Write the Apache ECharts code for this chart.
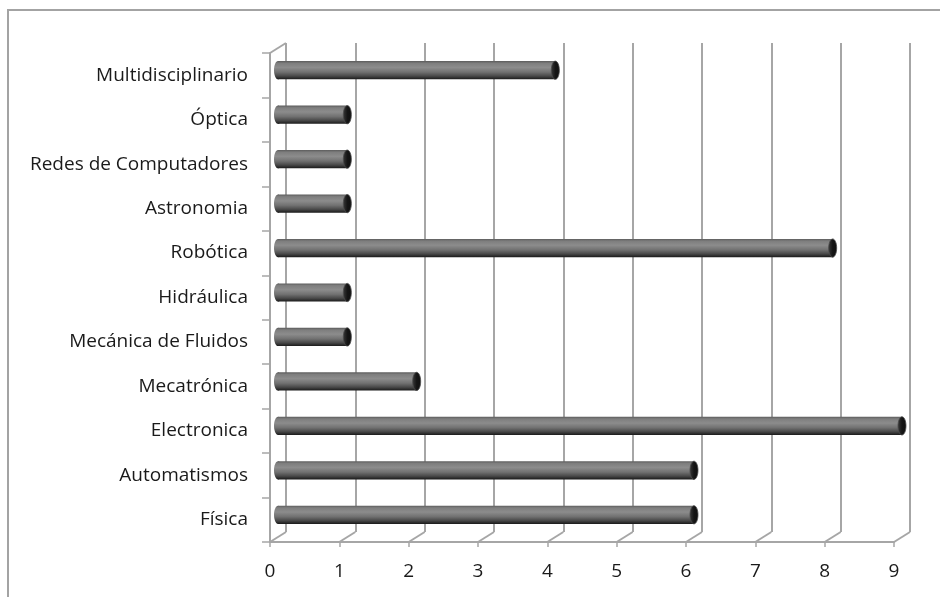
<!DOCTYPE html>
<html>
<head>
<meta charset="utf-8">
<script src="https://cdn.jsdelivr.net/npm/echarts@6/dist/echarts.min.js"></script>
<style>
  html, body { margin: 0; padding: 0; background: #fff; }
  #chart { width: 940px; height: 597px; }
</style>
</head>
<body>
<div id="chart"></div>
<script>
// Projects per area (bottom to top on the category axis)
const categories = [
  'Física', 'Automatismos', 'Electronica', 'Mecatrónica', 'Mecánica de Fluidos',
  'Hidráulica', 'Robótica', 'Astronomia', 'Redes de Computadores', 'Óptica', 'Multidisciplinario'
];
const counts = [6, 6, 9, 2, 1, 1, 8, 1, 1, 1, 4];
const xTicks = [0, 1, 2, 3, 4, 5, 6, 7, 8, 9];

const FONT = 'Open Sans';
const GRID_COLOR = '#a6a6a6';
const DEPTH_X = 16, DEPTH_Y = -10;   // perspective shift of the back wall

const chart = echarts.init(document.getElementById('chart'), null, { renderer: 'canvas' });

// front plane, back wall and the middle plane where the cylinders sit
const front = { left: 270, top: 53, width: 624, height: 489 };
const back = { left: front.left + DEPTH_X, top: front.top + DEPTH_Y, width: 624, height: 489 };
const mid = { left: front.left + DEPTH_X / 2, top: front.top + DEPTH_Y / 2, width: 624, height: 489 };

const bodyGradient = new echarts.graphic.LinearGradient(0, 0, 0, 1, [
  { offset: 0, color: '#5c5c5c' },
  { offset: 0.12, color: '#7e7e7e' },
  { offset: 0.35, color: '#8c8c8c' },
  { offset: 0.6, color: '#717171' },
  { offset: 0.82, color: '#484848' },
  { offset: 1, color: '#1a1a1a' }
]);
const capGradient = new echarts.graphic.LinearGradient(0, 0, 1, 0, [
  { offset: 0, color: '#3a3a3a' },
  { offset: 0.5, color: '#151515' },
  { offset: 1, color: '#101010' }
]);

function renderCylinder(params, api) {
  const v = api.value(0);
  const cat = api.value(1);
  const start = api.coord([0, cat]);
  const end = api.coord([v, cat]);
  const band = api.size([0, 1])[1];
  const h = band * 0.41;
  const ry = h / 2;
  const rx = 4;
  const cy = start[1];
  return {
    type: 'group',
    children: [
      { type: 'ellipse', shape: { cx: start[0], cy: cy, rx: rx, ry: ry },
        style: { fill: bodyGradient } },
      { type: 'rect', shape: { x: start[0], y: cy - ry, width: end[0] - start[0], height: h },
        style: { fill: bodyGradient } },
      { type: 'ellipse', shape: { cx: end[0], cy: cy, rx: rx, ry: ry },
        style: { fill: capGradient, stroke: '#4a4a4a', lineWidth: 0.8 } }
    ]
  };
}

// slanted floor edges joining the front axis to the back wall
function renderFloor(params, api) {
  const cs = params.coordSys;
  const p = api.coord([api.value(0), 0]);
  const bottom = cs.y + cs.height;
  const children = [{
    type: 'line',
    shape: { x1: p[0], y1: bottom, x2: p[0] + DEPTH_X, y2: bottom + DEPTH_Y },
    style: { stroke: GRID_COLOR, lineWidth: 2 }
  }];
  if (params.dataIndex === 0) {
    children.push({
      type: 'line',
      shape: { x1: p[0], y1: cs.y, x2: p[0] + DEPTH_X, y2: cs.y + DEPTH_Y },
      style: { stroke: GRID_COLOR, lineWidth: 2 }
    });
  }
  return { type: 'group', children: children };
}

const hiddenValueAxis = (gi) => ({
  gridIndex: gi, type: 'value', min: 0, max: 9, interval: 1,
  axisLine: { show: false }, axisTick: { show: false }, axisLabel: { show: false },
  splitLine: { show: false }
});
const hiddenCatAxis = (gi) => ({
  gridIndex: gi, type: 'category', data: categories,
  axisLine: { show: false }, axisTick: { show: false }, axisLabel: { show: false },
  splitLine: { show: false }
});

const option = {
  backgroundColor: '#ffffff',
  animation: false,
  grid: [
    Object.assign({ containLabel: false }, front),
    Object.assign({ containLabel: false }, back),
    Object.assign({ containLabel: false }, mid)
  ],
  xAxis: [
    {
      gridIndex: 0, type: 'value', min: 0, max: 9, interval: 1,
      axisLine: { show: true, lineStyle: { color: GRID_COLOR, width: 2 } },
      axisTick: { show: true, length: 5, lineStyle: { color: GRID_COLOR, width: 1.5 } },
      axisLabel: { color: '#1a1a1a', fontSize: 19, fontFamily: FONT, margin: 20 },
      splitLine: { show: false }
    },
    {
      gridIndex: 1, type: 'value', min: 0, max: 9, interval: 1,
      axisLine: { show: false }, axisTick: { show: false }, axisLabel: { show: false },
      splitLine: { show: true, lineStyle: { color: GRID_COLOR, width: 2 } }
    },
    hiddenValueAxis(2)
  ],
  yAxis: [
    {
      gridIndex: 0, type: 'category', data: categories,
      axisLine: { show: true, onZero: false, lineStyle: { color: GRID_COLOR, width: 2 } },
      axisTick: { show: true, length: 8, lineStyle: { color: GRID_COLOR, width: 1.5 } },
      axisLabel: { color: '#1a1a1a', fontSize: 19, fontFamily: FONT, margin: 22 },
      splitLine: { show: false }
    },
    hiddenCatAxis(1),
    hiddenCatAxis(2)
  ],
  graphic: [{
    type: 'polyline',
    shape: { points: [[8, 597], [8, 10], [940, 10]] },
    style: { stroke: '#a3a3a3', lineWidth: 2, fill: null },
    silent: true
  }],
  series: [
    {
      type: 'custom', xAxisIndex: 0, yAxisIndex: 0,
      renderItem: renderFloor,
      data: xTicks.map(t => [t]),
      encode: { x: 0 },
      silent: true, z: 1
    },
    {
      type: 'custom', xAxisIndex: 2, yAxisIndex: 2,
      renderItem: renderCylinder,
      data: counts.map((v, i) => [v, i]),
      encode: { x: 0, y: 1 },
      silent: true, z: 5
    }
  ]
};

chart.setOption(option);
</script>
</body>
</html>
